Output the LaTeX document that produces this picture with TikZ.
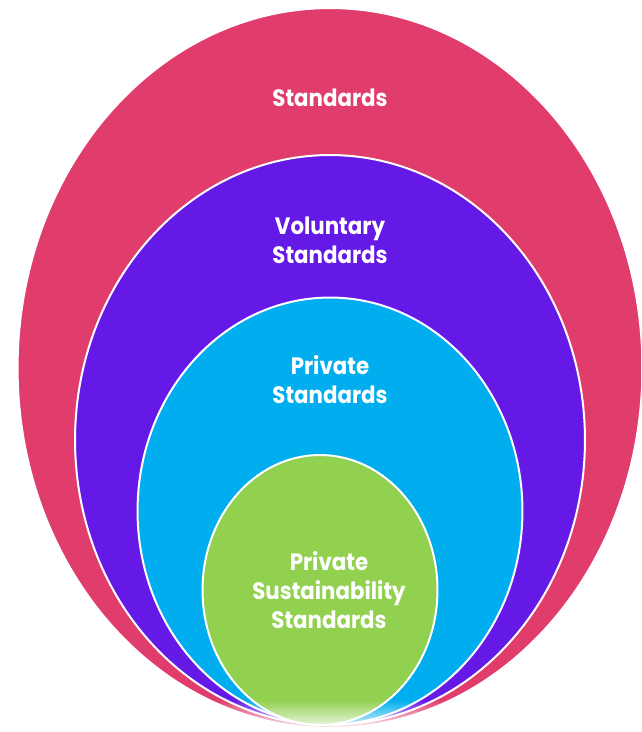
\documentclass[tikz,border=0pt]{standalone}
\usepackage{fontspec}
\setmainfont{Poppins}[FakeStretch=0.9]
\usetikzlibrary{shapes.geometric,fadings}

\definecolor{stdpink}{HTML}{E03C6C}
\definecolor{volviolet}{HTML}{6419E6}
\definecolor{privcyan}{HTML}{00AEEF}
\definecolor{sustgreen}{HTML}{92D050}

\begin{document}
\begin{tikzpicture}[
  x=0.02cm, y=-0.02cm,
  ring/.style={ellipse,draw=white,line width=0.04cm,inner sep=0pt},
  lbl/.style={text=white,align=center,font=\fontsize{13.5}{16.5}\selectfont\bfseries}
]
\useasboundingbox (0,0) rectangle (641,732);
\clip (0,0) rectangle (641,732);

% ---- nested ellipses (outer first) ----
\node[ring,fill=stdpink,minimum width=12.5cm,minimum height=14.4cm] (std) at (330,368) {};
\node[ring,fill=volviolet,minimum width=10.2cm,minimum height=11.4cm] (vol) at (330,440) {};
\node[ring,fill=privcyan,minimum width=7.7cm,minimum height=8.54cm] (priv) at (330,511) {};
\node[ring,fill=sustgreen,minimum width=4.7cm,minimum height=5.4cm] (sust) at (320,590) {};

% ---- labels ----
\node[lbl] (stdtxt)  at (330,98)  {Standards};
\node[lbl] (voltxt)  at (330,240) {Voluntary\\Standards};
\node[lbl] (privtxt) at (330,380) {Private\\Standards};
\node[lbl] (susttxt) at (329,590) {Private\\Sustainability\\Standards};

% ---- soft fade along the bottom ----
\fill[white,path fading=north] (0,700) rectangle (641,732);
\end{tikzpicture}
\end{document}
